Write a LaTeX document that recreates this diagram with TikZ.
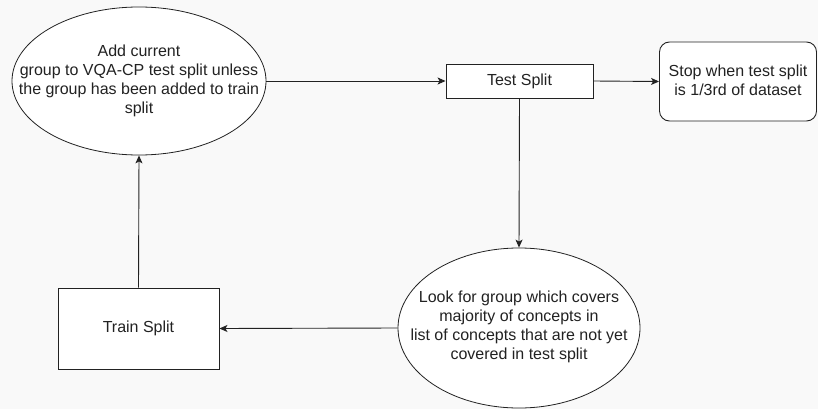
\documentclass[tikz,border=0pt]{standalone}
\usepackage{fontspec}
\setmainfont{Liberation Sans}
\usetikzlibrary{shapes.geometric,arrows.meta}
\definecolor{bgcol}{HTML}{F9F9F9}
\definecolor{inkcol}{HTML}{222222}
\begin{document}
\begin{tikzpicture}[x=1pt,y=-1pt,
  every node/.style={font=\fontsize{16}{19}\selectfont,text=inkcol},
  oval/.style={ellipse,draw=inkcol,fill=white,line width=0.8pt,inner sep=0pt},
  box/.style={rectangle,draw=inkcol,fill=white,line width=0.9pt,inner sep=0pt},
  roundbox/.style={box,rounded corners=10pt},
  label/.style={align=center,inner sep=0pt},
  link/.style={draw=inkcol,line width=0.9pt,-{Stealth[length=8pt,width=7pt,inset=2pt]}}]
  % canvas
  \fill[bgcol] (0,0) rectangle (818,409);
  \useasboundingbox (0,0) rectangle (818,409);

  % nodes
  \node[oval,minimum width=254,minimum height=148] (add) at (139,81) {};
  \node[label] at (add.center) {Add current\\group to VQA-CP test split unless\\the group has been added to train\\split};

  \node[box,minimum width=147,minimum height=34] (test) at (519.5,81) {Test Split};

  \node[roundbox,minimum width=157,minimum height=79] (stop) at (738,81.5) {};
  \node[label] at ([yshift=1.5]stop.center) {Stop when test split\\is 1/3rd of dataset};

  \node[oval,minimum width=242,minimum height=160] (look) at (519,328) {};
  \node[label] at ([yshift=1]look.center) {Look for group which covers\\majority of concepts in\\list of concepts that are not yet\\covered in test split};

  \node[box,minimum width=161,minimum height=81] (train) at (138.5,328.5) {Train Split};

  % connectors
  \draw[link] (add.east) -- (test.west);
  \draw[link] (test.east) -- (stop.west);
  \draw[link] (test.south) -- (look.north);
  \draw[link] (look.west) -- (train.east);
  \draw[link] (train.north) -- (add.south);
\end{tikzpicture}
\end{document}
